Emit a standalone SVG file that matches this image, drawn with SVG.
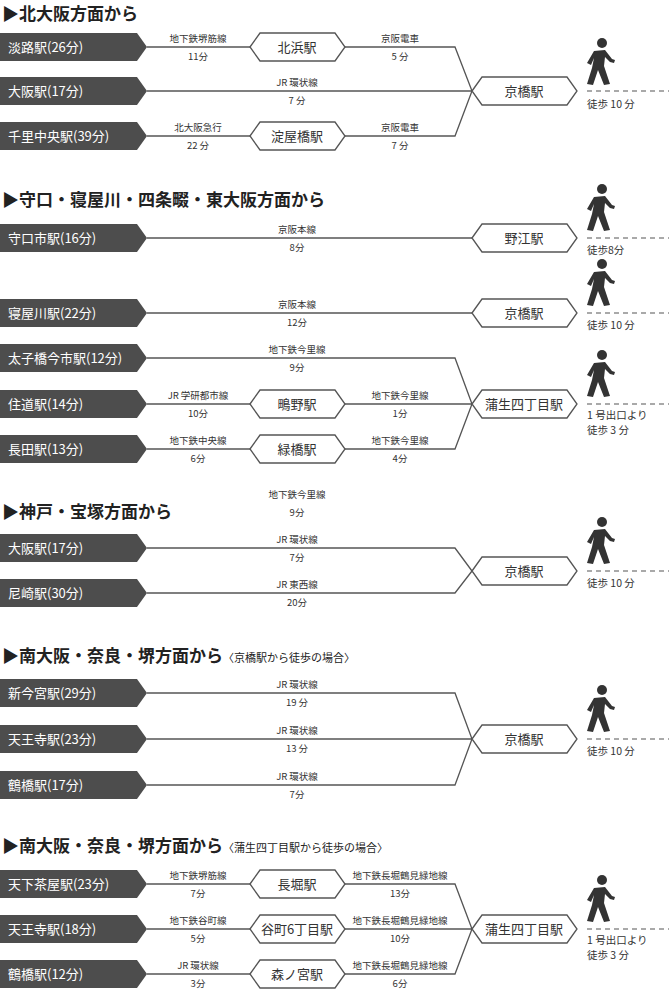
<svg xmlns="http://www.w3.org/2000/svg" xmlns:xlink="http://www.w3.org/1999/xlink" width="669" height="991" viewBox="0 0 669 991">
<style>
text{font-family:"Noto Sans CJK JP","Noto Sans",sans-serif;fill:#333}
.tab{fill:#4d4d4d}
.tt{fill:#fff;font-size:13px}
.hx{fill:#fff;stroke:#555;stroke-width:1.3}
.hxt{font-size:13px;text-anchor:middle}
.ln{fill:none;stroke:#555;stroke-width:1.3}
.lb{font-size:9.5px;text-anchor:middle}
.h{font-size:17px;font-weight:bold;fill:#222}
.hs{font-size:11px;font-weight:normal}
.dash{stroke:#555;stroke-width:1.2;stroke-dasharray:5,4}
.wk{font-size:10.5px}
</style>
<defs>
<g id="walker"><circle cx="16" cy="5" r="5" fill="#333"/><path d="M8,13 L19,12 L26,21 L29,22 L28,25 L24,24 L19,19 L18,28 L24,46 L18,47 L12,32 L7,47 L1,46 L6,30 L8,20 L5,27 L1,25 Z" fill="#333"/></g>
</defs>
<g id="connectors">
<path class="ln" d="M147,47 H455 L472,91 M147,91 H472 M147,136 H455 L472,91"/>
<path class="ln" d="M147,238 H472 M147,313 H472 M147,358 H455 L472,404 M147,404 H472 M147,449 H455 L472,404"/>
<path class="ln" d="M147,548 H455 L472,571 M147,593 H455 L472,571"/>
<path class="ln" d="M147,693 H455 L472,739 M147,739 H472 M147,785 H455 L472,739"/>
<path class="ln" d="M147,884 H455 L472,929 M147,929 H472 M147,974 H455 L472,929"/>
<line class="dash" x1="587" y1="91" x2="669" y2="91"/>
<line class="dash" x1="587" y1="238" x2="669" y2="238"/>
<line class="dash" x1="587" y1="313" x2="669" y2="313"/>
<line class="dash" x1="587" y1="404" x2="669" y2="404"/>
<line class="dash" x1="587" y1="571" x2="669" y2="571"/>
<line class="dash" x1="587" y1="739" x2="669" y2="739"/>
<line class="dash" x1="587" y1="929" x2="669" y2="929"/>
</g>
<g id="headings">
<text class="h" x="2" y="20">▶北大阪方面から</text>
<text class="h" x="2" y="206">▶守口・寝屋川・四条畷・東大阪方面から</text>
<text class="h" x="2" y="518">▶神戸・宝塚方面から</text>
<text class="h" x="2" y="662">▶南大阪・奈良・堺方面から<tspan class="hs">〈京橋駅から徒歩の場合〉</tspan></text>
<text class="h" x="2" y="852">▶南大阪・奈良・堺方面から<tspan class="hs">〈蒲生四丁目駅から徒歩の場合〉</tspan></text>
</g>
<g id="tabs">
<path class="tab" d="M0,33 H137 L147,47 L137,61 H0 Z"/><text class="tt" x="8" y="52">淡路駅(26分)</text>
<path class="tab" d="M0,77 H137 L147,91 L137,105 H0 Z"/><text class="tt" x="8" y="96">大阪駅(17分)</text>
<path class="tab" d="M0,122 H137 L147,136 L137,150 H0 Z"/><text class="tt" x="8" y="141">千里中央駅(39分)</text>
<path class="tab" d="M0,224 H137 L147,238 L137,252 H0 Z"/><text class="tt" x="8" y="243">守口市駅(16分)</text>
<path class="tab" d="M0,299 H137 L147,313 L137,327 H0 Z"/><text class="tt" x="8" y="318">寝屋川駅(22分)</text>
<path class="tab" d="M0,344 H137 L147,358 L137,372 H0 Z"/><text class="tt" x="8" y="363">太子橋今市駅(12分)</text>
<path class="tab" d="M0,390 H137 L147,404 L137,418 H0 Z"/><text class="tt" x="8" y="409">住道駅(14分)</text>
<path class="tab" d="M0,435 H137 L147,449 L137,463 H0 Z"/><text class="tt" x="8" y="454">長田駅(13分)</text>
<path class="tab" d="M0,534 H137 L147,548 L137,562 H0 Z"/><text class="tt" x="8" y="553">大阪駅(17分)</text>
<path class="tab" d="M0,579 H137 L147,593 L137,607 H0 Z"/><text class="tt" x="8" y="598">尼崎駅(30分)</text>
<path class="tab" d="M0,679 H137 L147,693 L137,707 H0 Z"/><text class="tt" x="8" y="698">新今宮駅(29分)</text>
<path class="tab" d="M0,725 H137 L147,739 L137,753 H0 Z"/><text class="tt" x="8" y="744">天王寺駅(23分)</text>
<path class="tab" d="M0,771 H137 L147,785 L137,799 H0 Z"/><text class="tt" x="8" y="790">鶴橋駅(17分)</text>
<path class="tab" d="M0,870 H137 L147,884 L137,898 H0 Z"/><text class="tt" x="8" y="889">天下茶屋駅(23分)</text>
<path class="tab" d="M0,915 H137 L147,929 L137,943 H0 Z"/><text class="tt" x="8" y="934">天王寺駅(18分)</text>
<path class="tab" d="M0,960 H137 L147,974 L137,988 H0 Z"/><text class="tt" x="8" y="979">鶴橋駅(12分)</text>
</g>
<g id="stations">
<path class="hx" d="M250,47 L260,33 H335 L345,47 L335,61 H260 Z"/><text class="hxt" x="297" y="52">北浜駅</text>
<path class="hx" d="M250,136 L260,122 H335 L345,136 L335,150 H260 Z"/><text class="hxt" x="297" y="141">淀屋橋駅</text>
<path class="hx" d="M472,91 L482,77 H567 L577,91 L567,105 H482 Z"/><text class="hxt" x="524" y="96">京橋駅</text>
<path class="hx" d="M472,238 L482,224 H567 L577,238 L567,252 H482 Z"/><text class="hxt" x="524" y="243">野江駅</text>
<path class="hx" d="M472,313 L482,299 H567 L577,313 L567,327 H482 Z"/><text class="hxt" x="524" y="318">京橋駅</text>
<path class="hx" d="M250,404 L260,390 H335 L345,404 L335,418 H260 Z"/><text class="hxt" x="297" y="409">鴫野駅</text>
<path class="hx" d="M250,449 L260,435 H335 L345,449 L335,463 H260 Z"/><text class="hxt" x="297" y="454">緑橋駅</text>
<path class="hx" d="M472,404 L482,390 H567 L577,404 L567,418 H482 Z"/><text class="hxt" x="524" y="409">蒲生四丁目駅</text>
<path class="hx" d="M472,571 L482,557 H567 L577,571 L567,585 H482 Z"/><text class="hxt" x="524" y="576">京橋駅</text>
<path class="hx" d="M472,739 L482,725 H567 L577,739 L567,753 H482 Z"/><text class="hxt" x="524" y="744">京橋駅</text>
<path class="hx" d="M250,884 L260,870 H335 L345,884 L335,898 H260 Z"/><text class="hxt" x="297" y="889">長堀駅</text>
<path class="hx" d="M250,929 L260,915 H335 L345,929 L335,943 H260 Z"/><text class="hxt" x="297" y="934">谷町6丁目駅</text>
<path class="hx" d="M250,974 L260,960 H335 L345,974 L335,988 H260 Z"/><text class="hxt" x="297" y="979">森ノ宮駅</text>
<path class="hx" d="M472,929 L482,915 H567 L577,929 L567,943 H482 Z"/><text class="hxt" x="524" y="934">蒲生四丁目駅</text>
</g>
<g id="labels">
<text class="lb" x="198" y="42">地下鉄堺筋線</text><text class="lb" x="198" y="60">11分</text>
<text class="lb" x="400" y="42">京阪電車</text><text class="lb" x="400" y="60">5 分</text>
<text class="lb" x="297" y="86">JR 環状線</text><text class="lb" x="297" y="104">7 分</text>
<text class="lb" x="198" y="131">北大阪急行</text><text class="lb" x="198" y="149">22 分</text>
<text class="lb" x="400" y="131">京阪電車</text><text class="lb" x="400" y="149">7 分</text>
<text class="lb" x="297" y="233">京阪本線</text><text class="lb" x="297" y="251">8分</text>
<text class="lb" x="297" y="308">京阪本線</text><text class="lb" x="297" y="326">12分</text>
<text class="lb" x="297" y="353">地下鉄今里線</text><text class="lb" x="297" y="371">9分</text>
<text class="lb" x="198" y="399">JR 学研都市線</text><text class="lb" x="198" y="417">10分</text>
<text class="lb" x="400" y="399">地下鉄今里線</text><text class="lb" x="400" y="417">1分</text>
<text class="lb" x="198" y="444">地下鉄中央線</text><text class="lb" x="198" y="462">6分</text>
<text class="lb" x="400" y="444">地下鉄今里線</text><text class="lb" x="400" y="462">4分</text>
<text class="lb" x="297" y="498">地下鉄今里線</text><text class="lb" x="297" y="516">9分</text>
<text class="lb" x="297" y="543">JR 環状線</text><text class="lb" x="297" y="561">7分</text>
<text class="lb" x="297" y="588">JR 東西線</text><text class="lb" x="297" y="606">20分</text>
<text class="lb" x="297" y="688">JR 環状線</text><text class="lb" x="297" y="706">19 分</text>
<text class="lb" x="297" y="734">JR 環状線</text><text class="lb" x="297" y="752">13 分</text>
<text class="lb" x="297" y="780">JR 環状線</text><text class="lb" x="297" y="798">7分</text>
<text class="lb" x="198" y="879">地下鉄堺筋線</text><text class="lb" x="198" y="897">7分</text>
<text class="lb" x="400" y="879">地下鉄長堀鶴見緑地線</text><text class="lb" x="400" y="897">13分</text>
<text class="lb" x="198" y="924">地下鉄谷町線</text><text class="lb" x="198" y="942">5分</text>
<text class="lb" x="400" y="924">地下鉄長堀鶴見緑地線</text><text class="lb" x="400" y="942">10分</text>
<text class="lb" x="198" y="969">JR 環状線</text><text class="lb" x="198" y="987">3分</text>
<text class="lb" x="400" y="969">地下鉄長堀鶴見緑地線</text><text class="lb" x="400" y="987">6分</text>
</g>
<g id="walks">
<use xlink:href="#walker" x="586" y="38"/><text class="wk" x="587" y="108">徒歩 10 分</text>
<use xlink:href="#walker" x="586" y="184"/><text class="wk" x="587" y="254">徒歩8分</text>
<use xlink:href="#walker" x="586" y="259"/><text class="wk" x="587" y="329">徒歩 10 分</text>
<use xlink:href="#walker" x="586" y="350"/><text class="wk" x="587" y="419">1 号出口より</text><text class="wk" x="587" y="434">徒歩 3 分</text>
<use xlink:href="#walker" x="586" y="517"/><text class="wk" x="587" y="587">徒歩 10 分</text>
<use xlink:href="#walker" x="586" y="685"/><text class="wk" x="587" y="755">徒歩 10 分</text>
<use xlink:href="#walker" x="586" y="875"/><text class="wk" x="587" y="944">1 号出口より</text><text class="wk" x="587" y="959">徒歩 3 分</text>
</g>
</svg>
